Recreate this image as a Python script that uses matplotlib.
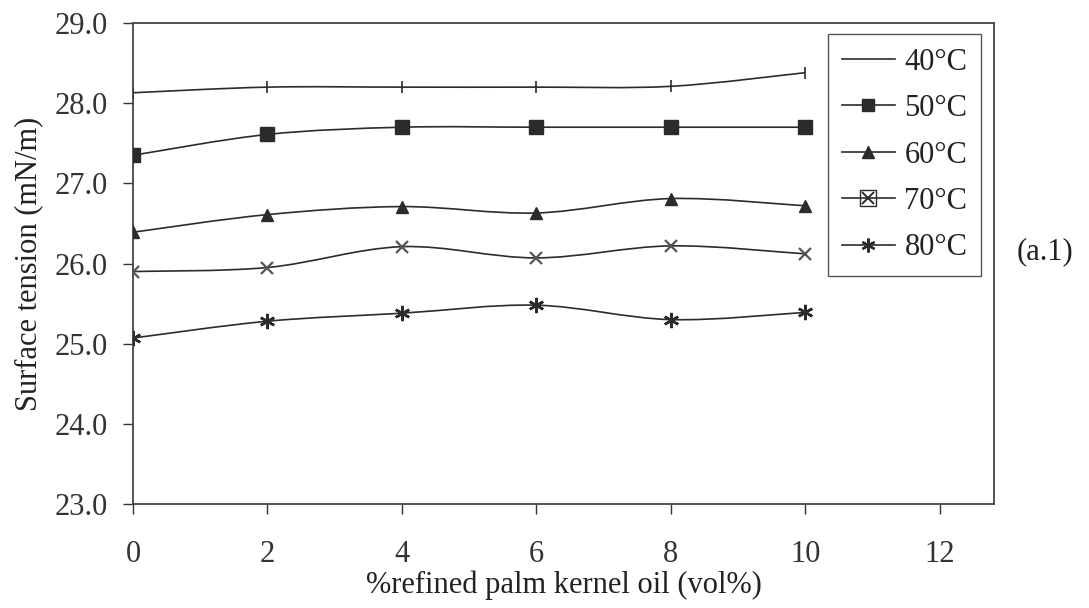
import matplotlib
matplotlib.use("Agg")
import matplotlib.pyplot as plt
from matplotlib.path import Path
from matplotlib.patches import PathPatch
from matplotlib.lines import Line2D

plt.rcParams['font.family'] = ['Liberation Serif', 'DejaVu Serif']

# donnees
x_vol = [0, 2, 4, 6, 8, 10]
st_40 = [28.13, 28.20, 28.20, 28.20, 28.21, 28.38]
st_50 = [27.35, 27.61, 27.70, 27.70, 27.70, 27.70]
st_60 = [26.39, 26.61, 26.71, 26.63, 26.81, 26.72]
st_70 = [25.90, 25.95, 26.21, 26.07, 26.22, 26.12]
st_80 = [25.07, 25.28, 25.38, 25.48, 25.30, 25.39]
etiquettes = ['40°C', '50°C', '60°C', '70°C', '80°C']
x_ticks = [0, 2, 4, 6, 8, 10, 12]
y_ticks = [23.0, 24.0, 25.0, 26.0, 27.0, 28.0, 29.0]

couleur = '#2b2b2b'
taille = 22


#
#   courbe lissee (style tableur) : bezier a partir des points
#
def courbeLisse(ax, X, Y):
    n = len(X)
    verts = [(X[0], Y[0])]
    codes = [Path.MOVETO]
    for i in range(n - 1):
        a = max(i - 1, 0)
        b = min(i + 2, n - 1)
        c1 = (X[i] + (X[i + 1] - X[a]) / 6, Y[i] + (Y[i + 1] - Y[a]) / 6)
        c2 = (X[i + 1] - (X[b] - X[i]) / 6, Y[i + 1] - (Y[b] - Y[i]) / 6)
        verts += [c1, c2, (X[i + 1], Y[i + 1])]
        codes += [Path.CURVE4, Path.CURVE4, Path.CURVE4]
    patch = PathPatch(Path(verts, codes), facecolor='none', edgecolor=couleur,
                      linewidth=1.2, zorder=2)
    ax.add_patch(patch)


fig = plt.figure(figsize=(10.89, 6.08), dpi=100)
ax = fig.add_axes([133 / 1089, 1 - 504 / 608, (994 - 133) / 1089, (504 - 23) / 608])

series = [st_40, st_50, st_60, st_70, st_80]
for Y in series:
    courbeLisse(ax, x_vol, Y)

ax.plot(x_vol, st_40, linestyle='none', marker='|', markersize=9, color=couleur,
        markeredgewidth=1.2, zorder=3)
ax.plot(x_vol, st_50, linestyle='none', marker='s', markersize=10, color=couleur, zorder=3)
ax.plot(x_vol, st_60, linestyle='none', marker='^', markersize=9, color=couleur, zorder=3)
ax.plot(x_vol, st_70, linestyle='none', marker='x', markersize=9, color='#555555',
        markeredgewidth=1.6, zorder=3)
ax.plot(x_vol, st_80, linestyle='none', marker=(6, 2, 0), markersize=11, color=couleur,
        markeredgewidth=1.8, zorder=3)

ax.set_xlim(0, 12.81)
ax.set_ylim(23.0, 29.0)
ax.set_xticks(x_ticks)
ax.set_yticks(y_ticks)
ax.set_yticklabels([f"{v:.1f}" for v in y_ticks])
ax.tick_params(axis='both', direction='out', labelsize=taille, colors='#333333', width=1)
ax.tick_params(axis='y', length=7, pad=11)
ax.tick_params(axis='x', length=7, pad=19)
for s in ax.spines.values():
    s.set_color('#444444')
    s.set_linewidth(1.3)

ax.set_xlabel('%refined palm kernel oil (vol%)', fontsize=taille, color='#222222', labelpad=1)
ax.set_ylabel('Surface tension (mN/m)', fontsize=taille, color='#222222', labelpad=8)

# legende
h40 = Line2D([], [], color=couleur, linewidth=1.2)
h50 = Line2D([], [], color=couleur, linewidth=1.2, marker='s', markersize=9)
h60 = Line2D([], [], color=couleur, linewidth=1.2, marker='^', markersize=8)
h70 = (Line2D([], [], color=couleur, linewidth=1.2, marker='s', markersize=11,
              fillstyle='none'),
       Line2D([], [], color=couleur, linestyle='none', marker='x', markersize=9,
              markeredgewidth=1.4))
h80 = Line2D([], [], color=couleur, linewidth=1.2, marker=(6, 2, 0), markersize=10,
             markeredgewidth=1.6)
leg = ax.legend([h40, h50, h60, h70, h80], etiquettes, loc='upper left',
                bbox_to_anchor=(828 / 1089, 1 - 34 / 608), bbox_transform=fig.transFigure,
                fontsize=taille, handlelength=1.75, handletextpad=0.3, labelspacing=0.57,
                borderpad=0.45, borderaxespad=0, fancybox=False, framealpha=1,
                edgecolor='#555555')
leg.get_frame().set_linewidth(1.0)
for t in leg.get_texts():
    t.set_color('#222222')

fig.text(1017 / 1089, 1 - 252 / 608, '(a.1)', fontsize=taille, va='center', ha='left',
         color='#222222')

fig.savefig('out.png', dpi=100)
